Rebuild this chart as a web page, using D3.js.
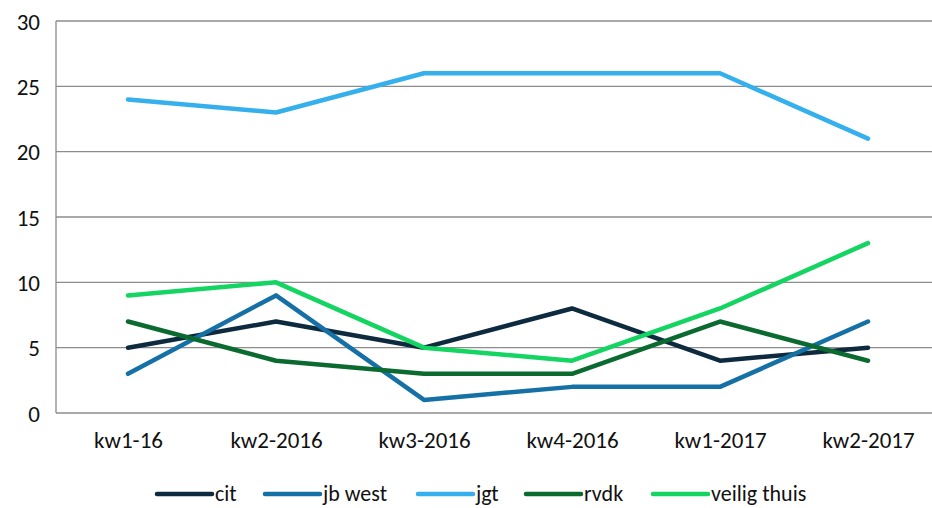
<!DOCTYPE html>
<html>
<head>
<meta charset="utf-8">
<script src="https://cdn.jsdelivr.net/npm/d3@7"></script>
<style>
  body { margin: 0; background: #fff; }
  text { font-family: Carlito, "Open Sans", "Liberation Sans", sans-serif; fill: #111; }
</style>
</head>
<body>
<div id="chart"></div>
<script>
var categories = ["kw1-16", "kw2-2016", "kw3-2016", "kw4-2016", "kw1-2017", "kw2-2017"];
var seriesNames = ["cit", "jb west", "jgt", "rvdk", "veilig thuis"];
var cit = [5, 7, 5, 8, 4, 5];
var jbWest = [3, 9, 1, 2, 2, 7];
var jgt = [24, 23, 26, 26, 26, 21];
var rvdk = [7, 4, 3, 3, 7, 4];
var veiligThuis = [9, 10, 5, 4, 8, 13];
var yTicks = [0, 5, 10, 15, 20, 25, 30];
var colors = ["#0d2a3e", "#1570a6", "#36b0ec", "#0b6a30", "#14d462"];

var w = 932, h = 508;
var allSeries = [cit, jbWest, jgt, rvdk, veiligThuis];

var svg = d3.select("#chart").append("svg")
  .attr("width", w)
  .attr("height", h);

var xScale = d3.scalePoint()
  .domain(categories)
  .range([128, 868]);

var yScale = d3.scaleLinear()
  .domain([0, 30])
  .range([413, 21]);

// gridlines
svg.append("g")
  .selectAll("line")
  .data(yTicks)
  .enter().append("line")
  .attr("x1", 56)
  .attr("x2", w)
  .attr("y1", function(d) { return yScale(d); })
  .attr("y2", function(d) { return yScale(d); })
  .style("stroke", "#8c8c8c")
  .style("stroke-width", 1.3);

// left axis line
svg.append("line")
  .attr("x1", 56).attr("x2", 56)
  .attr("y1", yScale(30)).attr("y2", yScale(0))
  .style("stroke", "#8c8c8c")
  .style("stroke-width", 1.3);

var yAxis = d3.axisLeft(yScale).tickValues(yTicks).tickSize(0).tickPadding(16);
var gy = svg.append("g")
  .attr("transform", "translate(56,0)")
  .call(yAxis);
gy.select(".domain").remove();
gy.selectAll("text").style("font-size", "23px").attr("dy", "0.35em");

var xAxis = d3.axisBottom(xScale).tickSize(0).tickPadding(19);
var gx = svg.append("g")
  .attr("transform", "translate(0," + yScale(0) + ")")
  .call(xAxis);
gx.select(".domain").remove();
gx.selectAll("text").style("font-size", "23px");

var line = d3.line()
  .x(function(d, i) { return xScale(categories[i]); })
  .y(function(d) { return yScale(d); });

allSeries.forEach(function(s, k) {
  svg.append("path")
    .datum(s)
    .attr("d", line)
    .style("fill", "none")
    .style("stroke", colors[k])
    .style("stroke-width", 4.5)
    .style("stroke-linecap", "round")
    .style("stroke-linejoin", "round");
});

// legend
var legendX = [157, 265, 418, 526, 653];
var legY = 494;
var leg = svg.append("g");
seriesNames.forEach(function(name, k) {
  leg.append("line")
    .attr("x1", legendX[k]).attr("x2", legendX[k] + 55)
    .attr("y1", legY).attr("y2", legY)
    .style("stroke", colors[k])
    .style("stroke-width", 4.5)
    .style("stroke-linecap", "round");
  leg.append("text")
    .attr("x", legendX[k] + 58)
    .attr("y", legY)
    .attr("dy", "0.32em")
    .style("font-size", "22px")
    .text(name);
});
</script>
</body>
</html>
